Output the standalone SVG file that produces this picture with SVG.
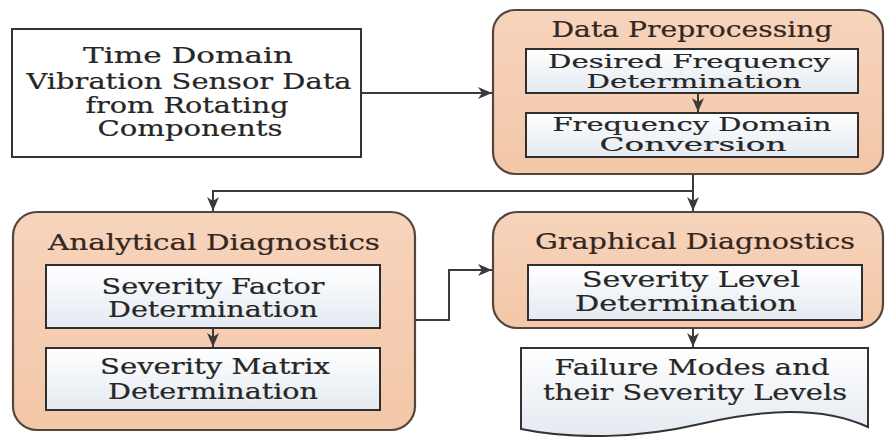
<svg xmlns="http://www.w3.org/2000/svg" width="885" height="437" viewBox="0 0 885 437">
<defs>
<linearGradient id="inner" x1="0" y1="0" x2="0" y2="1">
<stop offset="0" stop-color="#ffffff"/>
<stop offset="1" stop-color="#e4eaf1"/>
</linearGradient>
<linearGradient id="peach" x1="0" y1="0" x2="0" y2="1">
<stop offset="0" stop-color="#f7d4bd"/>
<stop offset="1" stop-color="#f3c7a7"/>
</linearGradient>
<marker id="arr" viewBox="0 0 14 12" refX="14" refY="6" markerWidth="14" markerHeight="12" orient="auto" markerUnits="userSpaceOnUse">
<path d="M0,0 L14,6 L0,12 L4,6 Z" fill="#3a3a3a"/>
</marker>
<style>
.group{fill:url(#peach);stroke:#54463f;stroke-width:2.2}
.box{fill:url(#inner);stroke:#2f2f2f;stroke-width:2}
.t{font-family:"DejaVu Serif","Liberation Serif",serif;font-size:22px;fill:#262626;text-anchor:middle;stroke:#262626;stroke-width:0.2}
.s{font-size:18px}
.h{fill:#35261e;stroke:#35261e}
.c{fill:none;stroke:#3a3a3a;stroke-width:2;marker-end:url(#arr)}
</style>
</defs>

<g id="time-domain">
<rect x="12" y="29" width="349" height="128" fill="#fff" stroke="#333" stroke-width="2"/>
<text class="t" x="188" y="63" textLength="210" lengthAdjust="spacingAndGlyphs">Time Domain</text>
<text class="t" x="189" y="89" textLength="325" lengthAdjust="spacingAndGlyphs">Vibration Sensor Data</text>
<text class="t" x="187" y="113" textLength="203" lengthAdjust="spacingAndGlyphs">from Rotating</text>
<text class="t" x="190" y="136" textLength="185" lengthAdjust="spacingAndGlyphs">Components</text>
</g>

<g id="data-preprocessing">
<rect class="group" x="493" y="10" width="390" height="164" rx="22"/>
<text class="t h" x="692" y="37" textLength="281" lengthAdjust="spacingAndGlyphs">Data Preprocessing</text>
<rect class="box" x="526" y="49" width="332" height="44"/>
<text class="t s" x="689" y="68" textLength="282" lengthAdjust="spacingAndGlyphs">Desired Frequency</text>
<text class="t s" x="694" y="88" textLength="215" lengthAdjust="spacingAndGlyphs">Determination</text>
<rect class="box" x="526" y="113" width="332" height="44"/>
<text class="t s" x="692" y="131" textLength="279" lengthAdjust="spacingAndGlyphs">Frequency Domain</text>
<text class="t s" x="693" y="151" textLength="187" lengthAdjust="spacingAndGlyphs">Conversion</text>
</g>

<g id="analytical-diagnostics">
<rect class="group" x="13" y="212" width="402" height="218" rx="24"/>
<text class="t h" x="214" y="250" textLength="332" lengthAdjust="spacingAndGlyphs">Analytical Diagnostics</text>
<rect class="box" x="46" y="265" width="334" height="63"/>
<text class="t" x="213" y="294" textLength="223" lengthAdjust="spacingAndGlyphs">Severity Factor</text>
<text class="t" x="213" y="317" textLength="210" lengthAdjust="spacingAndGlyphs">Determination</text>
<rect class="box" x="46" y="348" width="334" height="62"/>
<text class="t" x="215" y="374" textLength="230" lengthAdjust="spacingAndGlyphs">Severity Matrix</text>
<text class="t" x="213" y="399" textLength="210" lengthAdjust="spacingAndGlyphs">Determination</text>
</g>

<g id="graphical-diagnostics">
<rect class="group" x="493" y="212" width="390" height="116" rx="24"/>
<text class="t h" x="695" y="249" textLength="320" lengthAdjust="spacingAndGlyphs">Graphical Diagnostics</text>
<rect class="box" x="528" y="265" width="334" height="55"/>
<text class="t" x="691" y="287" textLength="218" lengthAdjust="spacingAndGlyphs">Severity Level</text>
<text class="t" x="686" y="311" textLength="222" lengthAdjust="spacingAndGlyphs">Determination</text>
</g>

<g id="failure-modes">
<path d="M521,348 L868,348 L868,427 C820,405 760,410 700,424 C640,438 575,440 521,429 Z" fill="url(#inner)" stroke="#333" stroke-width="2"/>
<text class="t" x="692" y="375" textLength="275" lengthAdjust="spacingAndGlyphs">Failure Modes and</text>
<text class="t" x="695" y="400" textLength="304" lengthAdjust="spacingAndGlyphs">their Severity Levels</text>
</g>

<g id="connectors">
<path class="c" d="M361,93 H492"/>
<path class="c" d="M698,93 V112"/>
<path class="c" d="M693,174 V211"/>
<path class="c" d="M693,191 H213 V211"/>
<path class="c" d="M213,328 V347"/>
<path class="c" d="M415,320 H449 V270 H492"/>
<path class="c" d="M693,328 V347"/>
</g>
</svg>
